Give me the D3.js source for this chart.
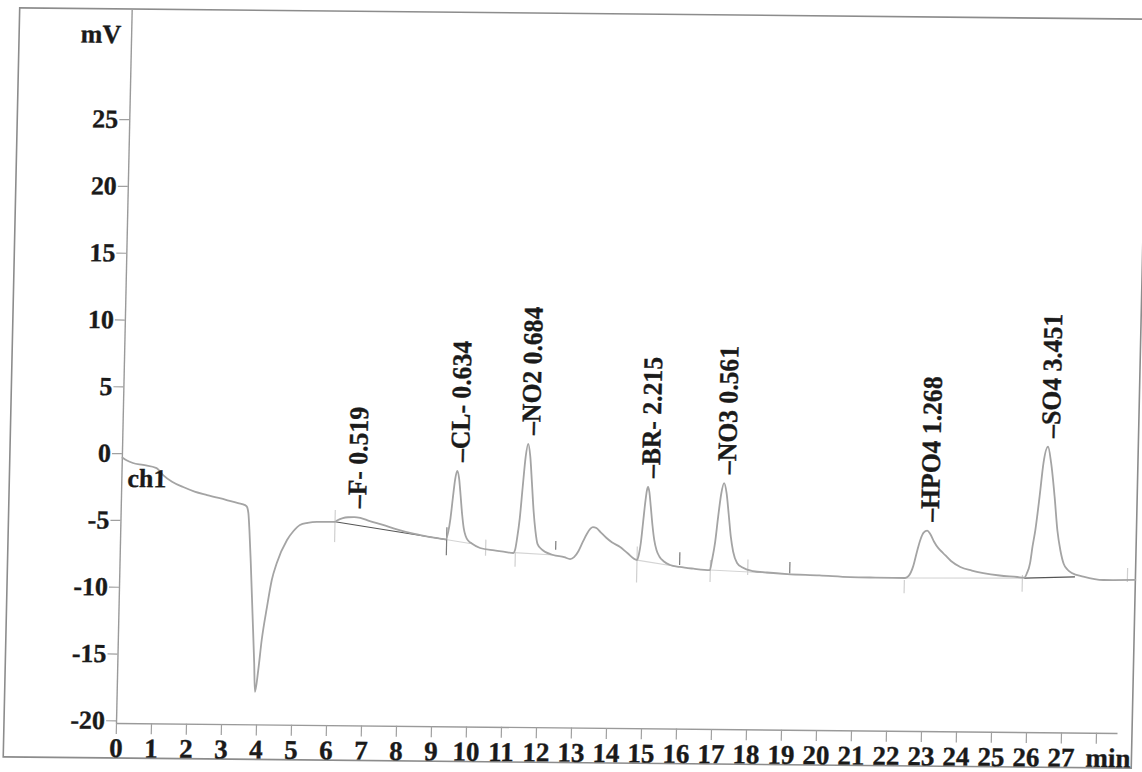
<!DOCTYPE html>
<html><head><meta charset="utf-8">
<script src="https://cdn.jsdelivr.net/npm/d3@7/dist/d3.min.js"></script>
<style>html,body{margin:0;padding:0;background:#fff;} svg{display:block;}</style>
</head><body>
<svg id="chart" width="1142" height="772"></svg>
<script>
// ---- data (time in min, signal in mV) ----
const trace = [
 [0,-0.3],[0.15,-0.55],[0.32,-0.73],[0.61,-0.87],[1.0,-1.1],[1.19,-1.61],[1.45,-2.1],[1.77,-2.49],[2.1,-2.82],[2.46,-3.07],[3.0,-3.42],[3.35,-3.65],[3.55,-3.8],[3.6,-3.9],[3.65,-4.4],[3.69,-5.66],[3.75,-8.15],[3.83,-11.89],[3.91,-15.63],[3.95,-17.77],[4.03,-16.13],[4.11,-13.88],[4.24,-11.4],[4.36,-9.38],[4.49,-8.13],[4.77,-6.38],[4.95,-5.7],[5.13,-5.24],[5.35,-5.08],[5.61,-5.0],[5.9,-4.99],[6.13,-4.98],
 [6.2,-4.86],[6.35,-4.7],[6.5,-4.63],[6.68,-4.61],[6.85,-4.67],[7.1,-4.88],[7.5,-5.18],[7.9,-5.5],[8.28,-5.76],[8.75,-6.0],[9.23,-6.19],
 [9.3,-6.22],[9.37,-5.65],[9.425,-4.65],[9.48,-3.13],[9.535,-1.71],[9.59,-1.08],[9.645,-1.6],[9.7,-2.9],[9.755,-4.3],[9.81,-5.35],[9.87,-5.95],[9.95,-6.3],[10.05,-6.5],[10.29,-6.83],[10.7,-7.0],[11.0,-7.1],
 [11.24,-7.18],[11.29,-6.95],[11.34,-6.1],[11.405,-4.58],[11.47,-2.2],[11.535,0.02],[11.6,1.0],[11.665,0.1],[11.73,-1.9],[11.795,-4.0],[11.86,-5.5],[11.93,-6.5],[12.05,-6.88],[12.38,-7.3],[12.7,-7.45],
 [12.87,-7.59],[12.98,-7.45],[13.1,-7.0],[13.22,-6.3],[13.33,-5.7],[13.43,-5.3],[13.5,-5.18],[13.6,-5.25],[13.72,-5.55],[13.88,-5.95],[14.05,-6.3],[14.29,-6.65],[14.5,-7.1],[14.78,-7.61],
 [14.83,-7.2],[14.88,-6.3],[14.93,-4.8],[14.98,-3.3],[15.02,-2.4],[15.05,-2.14],[15.09,-2.5],[15.14,-3.6],[15.2,-5.0],[15.26,-6.1],[15.33,-6.85],[15.42,-7.35],[15.55,-7.7],[15.73,-7.96],[16.0,-8.1],[16.4,-8.22],
 [16.87,-8.31],[16.92,-7.6],[17.0,-6.23],[17.07,-4.34],[17.145,-2.59],[17.22,-1.79],[17.295,-2.5],[17.37,-4.1],[17.445,-5.8],[17.52,-6.9],[17.64,-7.76],[17.8,-8.1],[18.1,-8.35],[18.5,-8.45],[19.08,-8.55],[20.0,-8.62],[20.88,-8.73],[21.6,-8.75],[22.45,-8.76],
 [22.55,-8.6],[22.67,-7.9],[22.77,-6.8],[22.86,-5.9],[22.95,-5.35],[23.05,-5.2],[23.14,-5.45],[23.25,-6.0],[23.38,-6.5],[23.52,-6.86],[23.75,-7.45],[24.02,-7.89],[24.35,-8.15],[24.68,-8.33],[25.15,-8.5],[25.65,-8.6],[25.85,-8.65],
 [25.92,-8.35],[26.01,-7.55],[26.07,-6.3],[26.14,-5.07],[26.24,-2.57],[26.33,-0.05],[26.45,1.17],[26.55,-0.06],[26.67,-2.58],[26.77,-5.09],[26.87,-6.6],[26.97,-7.57],[27.08,-8.0],[27.21,-8.26],[27.54,-8.52],[28.11,-8.76],[29.05,-8.73]
];

const peakNames   = ["F-", "CL-", "NO2", "BR-", "NO3", "HPO4", "SO4"];
const peakAmounts = ["0.519", "0.634", "0.684", "2.215", "0.561", "1.268", "3.451"];
const peakTimes   = [6.68, 9.59, 11.6, 15.05, 17.22, 23.05, 26.45];
const peakApex    = [-4.61, -1.08, 1.0, -2.14, -1.79, -5.2, 1.17];

// integration baselines [t1, v1, t2, v2]
const baselineSegs = [
 [6.13,-4.98, 9.3,-6.22], [9.3,-6.22, 10.0,-6.5], [11.27,-7.15, 12.4,-7.3],
 [14.78,-7.62, 16.0,-8.1], [16.87,-8.31, 19.1,-8.55], [22.45,-8.76, 25.8,-8.68], [25.85,-8.68, 27.3,-8.55]
];
const baselineDark = [true, false, false, false, false, false, true];

// integration event marks
const markTimes  = [6.13, 9.33, 10.45, 11.3, 12.45, 14.78, 16.0, 16.88, 17.95, 19.15, 22.43, 25.8, 28.8];
const markTop    = [-4.1, -5.3, -6.2, -7.1, -6.25, -6.6, -7.0, -7.55, -7.5, -7.65, -8.9, -8.45, -7.85];
const markBottom = [-6.5, -7.4, -7.4, -8.2, -6.9, -9.3, -7.95, -9.2, -8.65, -8.5, -9.9, -9.7, -8.9];
const markDark   = [false, true, false, false, true, false, true, false, false, true, false, false, false];

const xTicks = d3.range(0, 29);
const yTicks = [-20, -15, -10, -5, 0, 5, 10, 15, 20, 25];

// ---- drawing ----
const FONT = "'Liberation Serif','Times New Roman',serif";
const INK = "#1a1a1a";
const svg = d3.select("#chart");
svg.append("rect").attr("width", 1142).attr("height", 772).attr("fill", "#fff");

// slight skew of the scanned page
const g = svg.append("g").attr("transform", "translate(116,723) matrix(1,0.01,-0.022,1,0,0)");

const x = d3.scaleLinear().domain([0, 28.6]).range([0, 1001]);
const y = d3.scaleLinear().domain([-20.2, 33.2]).range([0, -713.4]);

function boldText(sel, size) {
  sel.attr("font-family", FONT).attr("font-weight", "bold").attr("font-size", size)
     .attr("fill", INK).attr("stroke", INK).attr("stroke-width", 0.35);
}

// outer frame
g.append("rect").attr("x", -112).attr("y", -714).attr("width", 1128).attr("height", 749)
 .attr("fill", "none").attr("stroke", "#8c8c8c").attr("stroke-width", 1.6);

// axes
const yAxis = d3.axisLeft(y).tickValues(yTicks).tickSizeInner(10).tickSizeOuter(0).tickPadding(1)
  .tickFormat(d => String(d));
const yg = g.append("g").call(yAxis);
const xAxis = d3.axisBottom(x).tickValues(xTicks).tickSizeInner(11).tickSizeOuter(0).tickPadding(4)
  .tickFormat(d => d === 28 ? "min" : String(d));
const xg = g.append("g").call(xAxis);

[yg, xg].forEach(a => {
  a.select(".domain").attr("stroke", "#9a9a9a").attr("stroke-width", 1.4);
  a.selectAll(".tick line").attr("stroke", "#a0a0a0").attr("stroke-width", 1.2);
});
boldText(yg.selectAll(".tick text"), 26);
boldText(xg.selectAll(".tick text"), 27);
xg.selectAll(".tick text").filter(d => d === 28).attr("dx", 12);

// axis title
boldText(g.append("text").attr("x", -10).attr("y", y(30.7)).attr("text-anchor", "end").text("mV"), 26);

// baselines
g.selectAll(".base").data(baselineSegs).join("line")
 .attr("x1", d => x(d[0])).attr("y1", d => y(d[1])).attr("x2", d => x(d[2])).attr("y2", d => y(d[3]))
 .attr("stroke", (d, i) => baselineDark[i] ? "#555" : "#d4d4d4").attr("stroke-width", 1.1);

// event marks
g.selectAll(".mark").data(markTimes).join("line")
 .attr("x1", d => x(d)).attr("x2", d => x(d))
 .attr("y1", (d, i) => y(markTop[i])).attr("y2", (d, i) => y(markBottom[i]))
 .attr("stroke", (d, i) => markDark[i] ? "#7a7a7a" : "#d0d0d0").attr("stroke-width", 1.2);

// trace
const line = d3.line().x(d => x(d[0])).y(d => y(d[1])).curve(d3.curveMonotoneX);
g.append("path").datum(trace).attr("d", line).attr("fill", "none")
 .attr("stroke", "#a4a4a4").attr("stroke-width", 1.8).attr("stroke-linejoin", "round");

// channel label
boldText(g.append("text").attr("x", x(0.17)).attr("y", y(-2.53)).text("ch1"), 26);

// peak labels
boldText(g.selectAll(".plabel").data(peakNames).join("text")
 .attr("transform", (d, i) => `translate(${x(peakTimes[i]) + 2},${y(peakApex[i]) - 9}) rotate(-90) scale(0.95,1)`)
 .attr("dy", "0.35em").attr("text-anchor", "start")
 .text((d, i) => "\u2013" + d + " " + peakAmounts[i]), 27);
</script>
</body></html>
